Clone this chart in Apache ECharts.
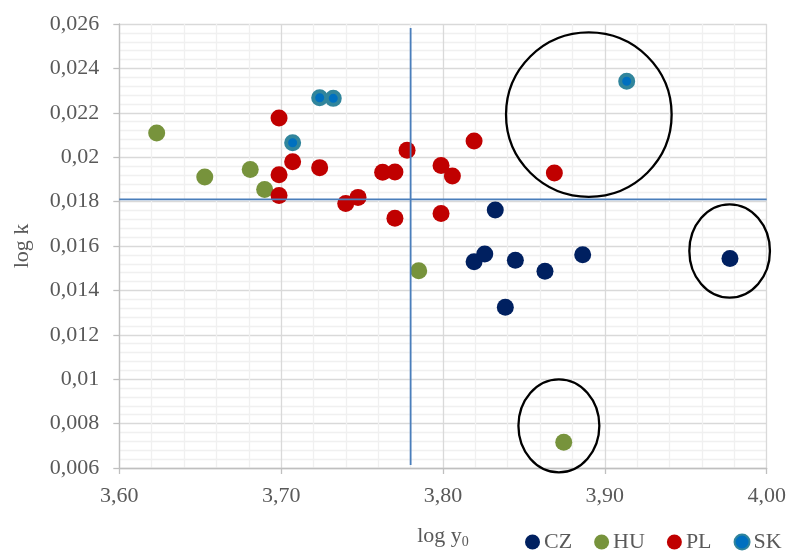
<!DOCTYPE html>
<html>
<head>
<meta charset="utf-8">
<script src="https://cdn.jsdelivr.net/npm/echarts@6/dist/echarts.min.js"></script>
<style>html,body{margin:0;padding:0;background:#fff;}#c{width:789px;height:551px;}</style>
</head>
<body>
<div id="c"></div>
<script>
// ---- data ----
const seriesNames = ['CZ', 'HU', 'PL', 'SK'];
const czX = [3.8323, 3.8192, 3.8258, 3.8447, 3.8630, 3.8863, 3.8385, 3.9773];
const czY = [0.01762, 0.01529, 0.01564, 0.01536, 0.01486, 0.01561, 0.01324, 0.01544];
const huX = [3.6231, 3.6528, 3.6809, 3.6898, 3.7850, 3.8746];
const huY = [0.02109, 0.01911, 0.01945, 0.01855, 0.01489, 0.00716];
const plX = [3.6987, 3.7071, 3.6987, 3.6987, 3.7238, 3.7399, 3.7475, 3.7627, 3.7703, 3.7703, 3.7778, 3.7988, 3.7988, 3.8058, 3.8192, 3.8688];
const plY = [0.02177, 0.0198, 0.01921, 0.01827, 0.01953, 0.01791, 0.01819, 0.01932, 0.01933, 0.01725, 0.02031, 0.01963, 0.01746, 0.01915, 0.02073, 0.01929];
const skX = [3.7238, 3.7322, 3.7071, 3.9135];
const skY = [0.02268, 0.02265, 0.02065, 0.02342];

// reference lines (mean of log y0 and log k)
const refX = 3.78;
const refY = 0.0181;
const refXLineY = [0.02582, 0.00613];
const refYLineX = [3.60, 4.00];

// highlighted outliers (ellipses: centre x, centre y, radius x, radius y in data units)
const ellCx = [3.8901, 3.9771, 3.8716];
const ellCy = [0.02192, 0.015775, 0.007901];
const ellRx = [0.05116, 0.0249, 0.0250];
const ellRy = [0.003703, 0.002104, 0.002095];

// tick labels
const xTickLabels = ['3,60', '3,70', '3,80', '3,90', '4,00'];
const yTickLabels = ['0,006', '0,008', '0,01', '0,012', '0,014', '0,016', '0,018', '0,02', '0,022', '0,024', '0,026'];

// ---- chart ----
const zip = (a, b) => a.map((v, i) => [v, b[i]]);
const FONT = 'Liberation Serif';
const TXT = '#595959';

const chart = echarts.init(document.getElementById('c'), null, { renderer: 'canvas' });
const option = {
  animation: false,
  backgroundColor: '#ffffff',
  grid: { left: 119.3, right: 22.3, top: 24, bottom: 83, containLabel: false, outerBoundsMode: 'none' },
  xAxis: {
    type: 'value', min: 3.6, max: 4.0, interval: 0.1,
    name: '{a|log y}{b|0}', nameLocation: 'middle', nameGap: 55,
    nameTextStyle: { rich: {
      a: { fontFamily: FONT, fontSize: 22, color: TXT },
      b: { fontFamily: FONT, fontSize: 14, color: TXT, padding: [12, 0, 0, 0] }
    } },
    axisLine: { show: true, lineStyle: { color: '#bfbfbf', width: 1.3 } },
    axisTick: { show: true, length: 6, lineStyle: { color: '#bfbfbf', width: 1.3 } },
    axisLabel: { fontFamily: FONT, fontSize: 22, color: TXT, margin: 17,
      formatter: v => xTickLabels[Math.round((v - 3.6) / 0.1)] },
    splitLine: { show: true, lineStyle: { color: '#d9d9d9', width: 1.3 } },
    minorTick: { show: false, splitNumber: 5 },
    minorSplitLine: { show: true, lineStyle: { color: '#f0f0f0', width: 1.3 } }
  },
  yAxis: {
    type: 'value', min: 0.006, max: 0.026, interval: 0.002,
    name: 'log k', nameLocation: 'middle', nameGap: 86,
    nameTextStyle: { fontFamily: FONT, fontSize: 22, color: TXT },
    axisLine: { show: true, lineStyle: { color: '#bfbfbf', width: 1.3 } },
    axisTick: { show: true, length: 6, lineStyle: { color: '#bfbfbf', width: 1.3 } },
    axisLabel: { fontFamily: FONT, fontSize: 22, color: TXT, margin: 20,
      formatter: v => yTickLabels[Math.round((v - 0.006) / 0.002)] },
    splitLine: { show: true, lineStyle: { color: '#d9d9d9', width: 1.3 } },
    minorTick: { show: false, splitNumber: 5 },
    minorSplitLine: { show: true, lineStyle: { color: '#f0f0f0', width: 1.3 } }
  },
  legend: {
    data: seriesNames, left: 520, top: 526, itemWidth: 15, itemHeight: 15, itemGap: 22,
    icon: 'circle',
    textStyle: { fontFamily: FONT, fontSize: 22, color: TXT, padding: [0, 0, 0, -1] }
  },
  series: [
    { name: 'CZ', type: 'scatter', symbol: 'circle', symbolSize: 17, z: 3,
      itemStyle: { color: '#002060', opacity: 1 }, data: zip(czX, czY) },
    { name: 'HU', type: 'scatter', symbol: 'circle', symbolSize: 17, z: 3,
      itemStyle: { color: '#77933C', opacity: 1 }, data: zip(huX, huY) },
    { name: 'PL', type: 'scatter', symbol: 'circle', symbolSize: 17, z: 3,
      itemStyle: { color: '#C00000', opacity: 1 }, data: zip(plX, plY) },
    { name: 'SK', type: 'scatter', symbol: 'circle', symbolSize: 13, z: 3,
      itemStyle: { color: '#0070C0', borderColor: '#31859C', borderWidth: 4, opacity: 1 },
      data: zip(skX, skY) },
    { name: 'refV', type: 'line', symbol: 'none', z: 4, silent: true,
      lineStyle: { color: '#4a7ebb', width: 1.8 },
      data: [[refX, refXLineY[0]], [refX, refXLineY[1]]] },
    { name: 'refH', type: 'line', symbol: 'none', z: 4, silent: true,
      lineStyle: { color: '#4a7ebb', width: 1.8 },
      data: [[refYLineX[0], refY], [refYLineX[1], refY]] },
    { name: 'outliers', type: 'custom', z: 5, silent: true, clip: false,
      encode: { x: 0, y: 1 },
      data: ellCx.map((c, i) => [c, ellCy[i], ellRx[i], ellRy[i]]),
      renderItem: function (params, api) {
        const c = api.coord([api.value(0), api.value(1)]);
        const s = api.size([api.value(2), api.value(3)]);
        return { type: 'ellipse', shape: { cx: c[0], cy: c[1], rx: s[0], ry: s[1] },
          style: { fill: 'none', stroke: '#000000', lineWidth: 2.3 } };
      } }
  ]
};
chart.setOption(option);
</script>
</body>
</html>
